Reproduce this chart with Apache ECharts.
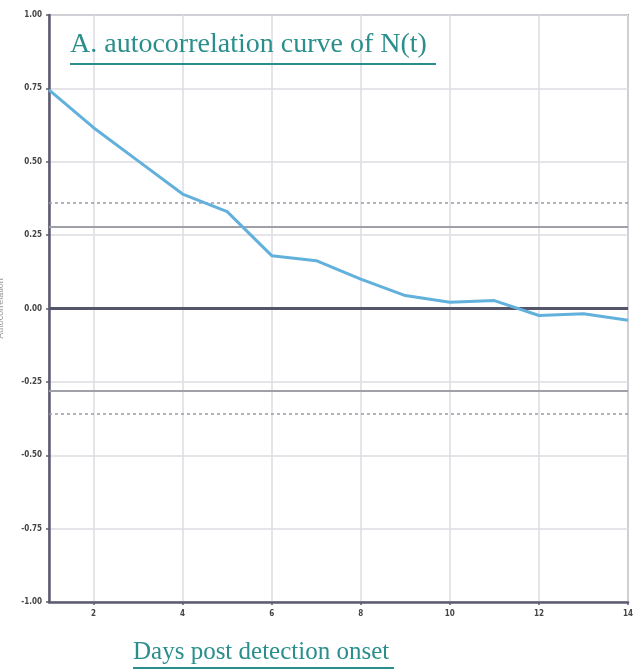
<!DOCTYPE html>
<html>
<head>
<meta charset="utf-8">
<script src="https://cdn.jsdelivr.net/npm/echarts@6/dist/echarts.min.js"></script>
<style>
html,body{margin:0;padding:0;background:#fff;}
#chart{width:634px;height:670px;}
</style>
</head>
<body>
<div id="chart"></div>
<script>
const titleText = 'A. autocorrelation curve of N(t)';
const xAxisName = 'Days post detection onset';
const yAxisName = 'Autocorrelation';
const lags = [1, 2, 3, 4, 5, 6, 7, 8, 9, 10, 11, 12, 13, 14];
const acfValues = [0.745, 0.616, 0.503, 0.39, 0.33, 0.18, 0.163, 0.10, 0.044, 0.021, 0.027, -0.024, -0.018, -0.04];
const xTicks = [2, 4, 6, 8, 10, 12, 14];
const solidBounds = [0.28, -0.28];
const dottedBounds = [0.365, -0.365];
const zeroLine = [0];

const chart = echarts.init(document.getElementById('chart'), null, {renderer: 'canvas'});

const markData = [];
zeroLine.forEach(v => markData.push({yAxis: v, lineStyle: {color: '#55556a', width: 3, type: 'solid'}}));
solidBounds.forEach(v => markData.push({yAxis: v, lineStyle: {color: '#a0a0a8', width: 2, type: 'solid'}}));
dottedBounds.forEach(v => markData.push({yAxis: v, lineStyle: {color: '#9a9aa2', width: 1.5, type: [3, 3]}}));

const teal = '#2a8f8c';

chart.setOption({
  animation: false,
  backgroundColor: '#fff',
  grid: {
    left: 49, right: 6, top: 15, bottom: 68,
    containLabel: false, outerBoundsMode: 'none',
    show: true, borderColor: '#a8a8b0', borderWidth: 2, backgroundColor: 'transparent'
  },
  xAxis: {
    type: 'value', min: 1, max: 14,
    axisLine: {show: true, onZero: false, lineStyle: {color: '#5c5c72', width: 2.5}},
    axisTick: {show: true, customValues: xTicks, length: 3, lineStyle: {color: '#5c5c72', width: 1.5}},
    axisLabel: {customValues: xTicks, color: '#444', fontSize: 8, fontWeight: 'bold', margin: 8, fontFamily: 'DejaVu Sans Condensed'},
    splitLine: {show: true, lineStyle: {color: '#dcdce2', width: 1.5}}
  },
  yAxis: {
    type: 'value', min: -1, max: 1, interval: 0.25,
    name: yAxisName, nameLocation: 'middle', nameGap: 44, nameRotate: 90,
    nameTextStyle: {color: '#999', fontSize: 9},
    axisLine: {show: true, lineStyle: {color: '#5c5c72', width: 2.5}},
    axisTick: {show: true, length: 3, lineStyle: {color: '#5c5c72', width: 1.5}},
    axisLabel: {color: '#444', fontSize: 8, fontWeight: 'bold', margin: 7, fontFamily: 'DejaVu Sans Condensed',
      formatter: v => v.toFixed(2)},
    splitLine: {show: true, lineStyle: {color: '#dcdce2', width: 1.5}}
  },
  series: [{
    type: 'line',
    data: lags.map((x, i) => [x, acfValues[i]]),
    showSymbol: false,
    lineStyle: {color: '#62b0dc', width: 3},
    z: 5,
    markLine: {
      silent: true, symbol: 'none', label: {show: false},
      data: markData, z: 3
    }
  }],
  graphic: [
    {type: 'text', left: 70, top: 31, z: 10,
     style: {text: titleText, fill: teal, font: '28px "Liberation Serif"'}},
    {type: 'rect', left: 70, top: 63, z: 10, shape: {width: 366, height: 2}, style: {fill: teal}},
    {type: 'text', left: 133, top: 640, z: 10,
     style: {text: xAxisName, fill: teal, font: '25px "Liberation Serif"'}},
    {type: 'rect', left: 133, top: 667, z: 10, shape: {width: 261, height: 2}, style: {fill: teal}}
  ]
});
</script>
</body>
</html>
